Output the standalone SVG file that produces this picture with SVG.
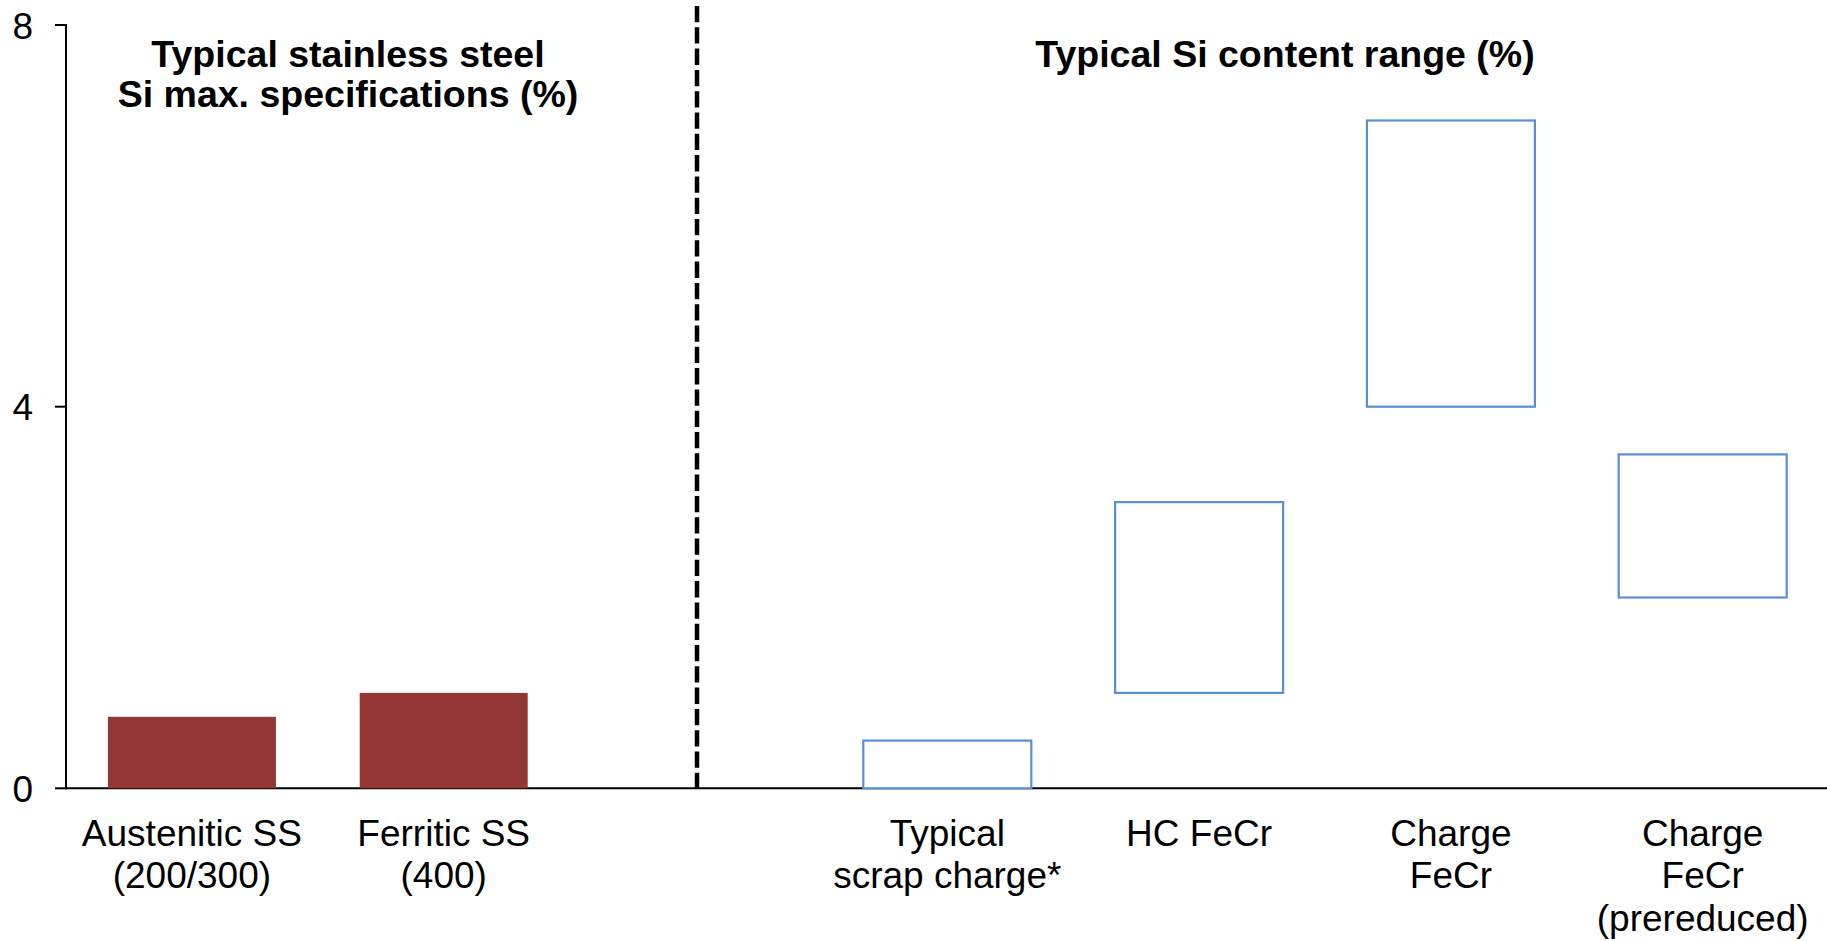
<svg xmlns="http://www.w3.org/2000/svg" width="1827" height="941" viewBox="0 0 1827 941">
  <style>
    .axis { stroke: #000; stroke-width: 2; fill: none; }
    .divider { stroke: #000; stroke-width: 4.5; stroke-dasharray: 16.3 5; fill: none; }
    .spec { fill: #943634; }
    .range { fill: #fff; stroke: #5A8ED6; stroke-width: 2.2; }
    .tick { font-family: "Liberation Sans", Arial, sans-serif; font-size: 37px; fill: #000; text-anchor: end; }
    .cat { font-family: "Liberation Sans", Arial, sans-serif; font-size: 37px; fill: #000; text-anchor: middle; }
    .title { font-family: "Liberation Sans", Arial, sans-serif; font-size: 37.5px; font-weight: bold; fill: #000; text-anchor: middle; }
  </style>
  <rect width="1827" height="941" fill="#fff"/>

  <!-- value axis: 0..8 %, 95.4 px per unit, zero at y=788.3 -->
  <g id="y-axis">
    <line class="axis" x1="66" y1="24" x2="66" y2="789.3"/>
    <line class="axis" x1="55" y1="25" x2="66" y2="25"/>
    <line class="axis" x1="55" y1="406.7" x2="66" y2="406.7"/>
    <line class="axis" x1="55" y1="788.3" x2="66" y2="788.3"/>
    <text class="tick" x="33" y="38.5">8</text>
    <text class="tick" x="33" y="420">4</text>
    <text class="tick" x="33" y="801.5">0</text>
  </g>

  <g id="x-axis">
    <line class="axis" x1="65" y1="788.3" x2="1827" y2="788.3"/>
  </g>

  <!-- separator between the two panels -->
  <g id="divider">
    <line class="divider" x1="697" y1="6" x2="697" y2="788"/>
  </g>

  <g id="title-spec">
    <text class="title" x="348" y="66.7">Typical stainless steel</text>
    <text class="title" x="348" y="107">Si max. specifications (%)</text>
  </g>
  <g id="title-range">
    <text class="title" x="1285" y="66.7">Typical Si content range (%)</text>
  </g>

  <!-- maximum Si specification bars -->
  <g id="austenitic">
    <rect class="spec" x="107.9" y="716.8" width="168" height="71.5"/>
    <text class="cat" x="191.9" y="845.6">Austenitic SS</text>
    <text class="cat" x="191.9" y="888.3">(200/300)</text>
  </g>
  <g id="ferritic">
    <rect class="spec" x="359.7" y="692.9" width="168" height="95.4"/>
    <text class="cat" x="443.7" y="845.6">Ferritic SS</text>
    <text class="cat" x="443.7" y="888.3">(400)</text>
  </g>

  <!-- Si content ranges (floating boxes, low..high) -->
  <g id="scrap">
    <rect class="range" x="863.3" y="740.6" width="168" height="47.7"/>
    <text class="cat" x="947.3" y="845.6">Typical</text>
    <text class="cat" x="947.3" y="888.3">scrap charge*</text>
  </g>
  <g id="hc-fecr">
    <rect class="range" x="1115.1" y="502.1" width="168" height="190.8"/>
    <text class="cat" x="1199.1" y="845.6">HC FeCr</text>
  </g>
  <g id="charge-fecr">
    <rect class="range" x="1366.9" y="120.5" width="168" height="286.2"/>
    <text class="cat" x="1450.9" y="845.6">Charge</text>
    <text class="cat" x="1450.9" y="888.3">FeCr</text>
  </g>
  <g id="charge-fecr-prereduced">
    <rect class="range" x="1618.7" y="454.4" width="168" height="143.1"/>
    <text class="cat" x="1702.7" y="845.6">Charge</text>
    <text class="cat" x="1702.7" y="888.3">FeCr</text>
    <text class="cat" x="1702.7" y="931">(prereduced)</text>
  </g>
</svg>
